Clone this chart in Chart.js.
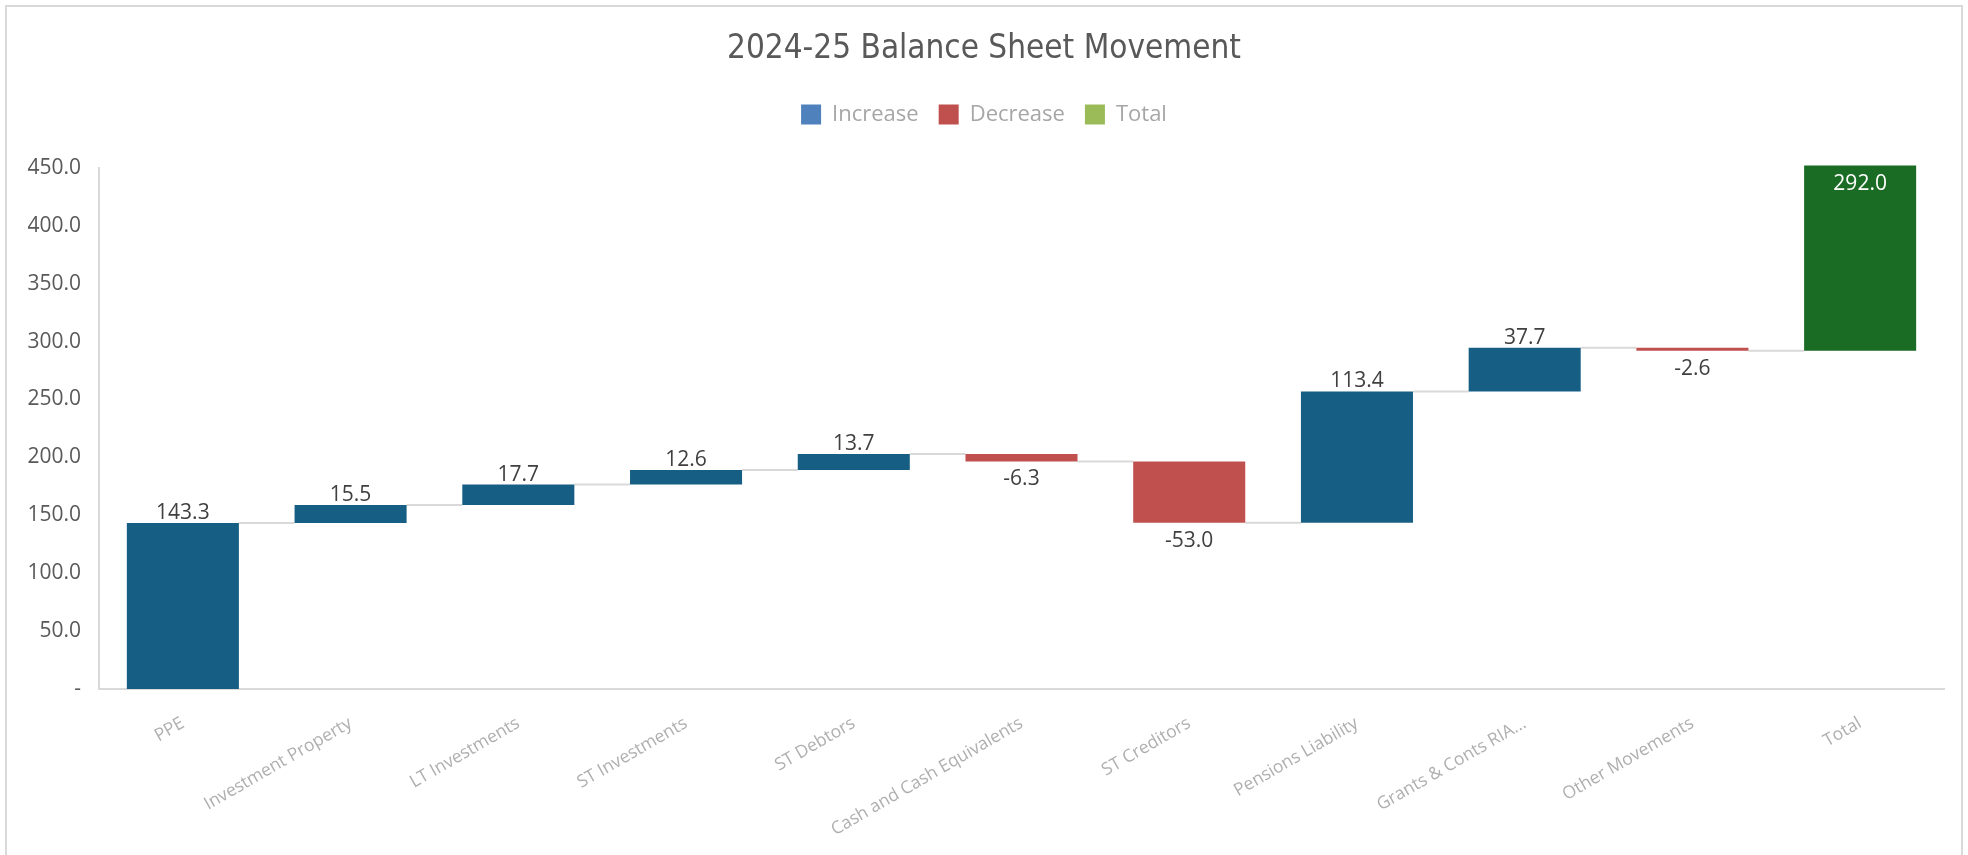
<!DOCTYPE html>
<html>
<head>
<meta charset="utf-8">
<title>2024-25 Balance Sheet Movement</title>
<script src="https://cdn.jsdelivr.net/npm/chart.js@4.4.1/dist/chart.umd.min.js"></script>
<style>
  html, body { margin: 0; padding: 0; background: #fff; overflow: hidden; }
  .frame { position: absolute; left: 5px; top: 5px; width: 1954px; height: 900px; border: 2px solid #d9d9d9; }
  .wrap { position: absolute; left: 0; top: 0; width: 1968px; height: 855px; }
</style>
</head>
<body>
<div class="frame"></div>
<div class="wrap"><canvas id="myChart"></canvas></div>
<script>
// DATA
var labels = ['PPE', 'Investment Property', 'LT Investments', 'ST Investments', 'ST Debtors',
    'Cash and Cash Equivalents', 'ST Creditors', 'Pensions Liability', 'Grants & Conts RIA...',
    'Other Movements', 'Total'];
var movements = [143.3, 15.5, 17.7, 12.6, 13.7, -6.3, -53.0, 113.4, 37.7, -2.6];
var total = 292.0;
var totalBarTop = 452; // green bar runs up past the top tick in the original
var yTicks = [0, 50, 100, 150, 200, 250, 300, 350, 400, 450];
var legendNames = ['Increase', 'Decrease', 'Total'];

// colours
var barColors = ['#165e83', '#c0504d', '#1a6b24'];
var legendColors = ['#4f81bd', '#c0504d', '#9bbb59'];

// floating bars [start, end] built from the movements
var running = 0;
var levels = [];
var increaseData = [], decreaseData = [], totalData = [];
movements.forEach(function (m) {
    var start = running;
    running = Math.round((running + m) * 10) / 10;
    levels.push(running);
    increaseData.push(m >= 0 ? [start, running] : null);
    decreaseData.push(m < 0 ? [start, running] : null);
    totalData.push(null);
});
increaseData.push(null);
decreaseData.push(null);
totalData.push([total, totalBarTop]);

function barAt(chart, i) {
    for (var d = 0; d < chart.data.datasets.length; d++) {
        if (chart.data.datasets[d].data[i] && chart.isDatasetVisible(d)) {
            return chart.getDatasetMeta(d).data[i];
        }
    }
    return null;
}

// grey connector lines between bars
var connectors = {
    id: 'connectors',
    beforeDatasetsDraw: function (chart) {
        var c = chart.ctx;
        var y = chart.scales.y;
        c.save();
        c.strokeStyle = '#d9d9d9';
        c.lineWidth = 2;
        for (var i = 0; i < labels.length - 1; i++) {
            var a = barAt(chart, i), b = barAt(chart, i + 1);
            if (!a || !b) continue;
            var py = y.getPixelForValue(levels[i]);
            c.beginPath();
            c.moveTo(a.x + a.width / 2, py);
            c.lineTo(b.x - b.width / 2, py);
            c.stroke();
        }
        c.restore();
    }
};

// value labels
var barLabels = {
    id: 'barLabels',
    afterDatasetsDraw: function (chart) {
        var c = chart.ctx;
        c.save();
        c.font = '21px "Open Sans"';
        c.textAlign = 'center';
        c.textBaseline = 'alphabetic';
        labels.forEach(function (name, i) {
            var bar = barAt(chart, i);
            if (!bar) return;
            var top = Math.min(bar.y, bar.base), bottom = Math.max(bar.y, bar.base);
            if (i === labels.length - 1) {
                c.fillStyle = '#ffffff';
                c.fillText(total.toFixed(1), bar.x, top + 25);
            } else if (movements[i] >= 0) {
                c.fillStyle = '#404040';
                c.fillText(movements[i].toFixed(1), bar.x, top - 4);
            } else {
                c.fillStyle = '#404040';
                c.fillText(movements[i].toFixed(1), bar.x, bottom + 24);
            }
        });
        c.restore();
    }
};

Chart.defaults.font.family = "'Open Sans', sans-serif";

// CHART
var ctx = document.getElementById('myChart');
var myChart = new Chart(ctx, {
    type: 'bar',
    data: {
        labels: labels,
        datasets: [{
            label: legendNames[0],
            data: increaseData,
            backgroundColor: barColors[0]
        }, {
            label: legendNames[1],
            data: decreaseData,
            backgroundColor: barColors[1]
        }, {
            label: legendNames[2],
            data: totalData,
            backgroundColor: barColors[2],
            clip: false
        }]
    },
    options: {
        responsive: true,
        maintainAspectRatio: false,
        animation: false,
        layout: { padding: { left: 24, right: 24, top: 0, bottom: 0 } },
        datasets: {
            bar: { grouped: false, barPercentage: 0.668, categoryPercentage: 1.0, borderWidth: 0 }
        },
        plugins: {
            title: {
                display: true,
                text: '2024-25 Balance Sheet Movement',
                color: '#595959',
                font: { family: "'Liberation Sans Narrow', 'DejaVu Sans Condensed', Roboto, sans-serif", size: 33, weight: 'normal', lineHeight: 1.2 },
                padding: { top: 30, bottom: 14 }
            },
            legend: {
                position: 'top',
                labels: {
                    boxWidth: 20,
                    boxHeight: 20,
                    padding: 20,
                    color: '#a6a6a6',
                    font: { size: 22 },
                    generateLabels: function (chart) {
                        return legendNames.map(function (name, i) {
                            return {
                                text: name,
                                fillStyle: legendColors[i],
                                strokeStyle: legendColors[i],
                                lineWidth: 0,
                                fontColor: '#a6a6a6',
                                hidden: !chart.isDatasetVisible(i),
                                datasetIndex: i
                            };
                        });
                    }
                }
            },
            // empty spacer between legend and plot
            subtitle: { display: true, text: '', weight: 500, font: { size: 1 }, padding: { top: 31, bottom: 0 } },
            tooltip: { enabled: false }
        },
        scales: {
            x: {
                grid: { display: false, drawTicks: false },
                border: { color: '#d9d9d9', width: 2 },
                ticks: { color: '#afafaf', font: { size: 17.5 }, minRotation: 30, maxRotation: 30, padding: 24, autoSkip: false },
                afterFit: function (s) { s.height = 166; }
            },
            y: {
                min: 0,
                max: 450,
                grid: { display: false, drawTicks: false },
                border: { color: '#d9d9d9', width: 2 },
                ticks: {
                    color: '#595959',
                    font: { size: 21 },
                    padding: 18,
                    callback: function (v) { return v === 0 ? '-' : v.toFixed(1); }
                },
                afterBuildTicks: function (axis) {
                    axis.ticks = yTicks.map(function (v) { return { value: v }; });
                },
                afterFit: function (s) { s.width = 75; }
            }
        }
    },
    plugins: [connectors, barLabels]
});
</script>
</body>
</html>
